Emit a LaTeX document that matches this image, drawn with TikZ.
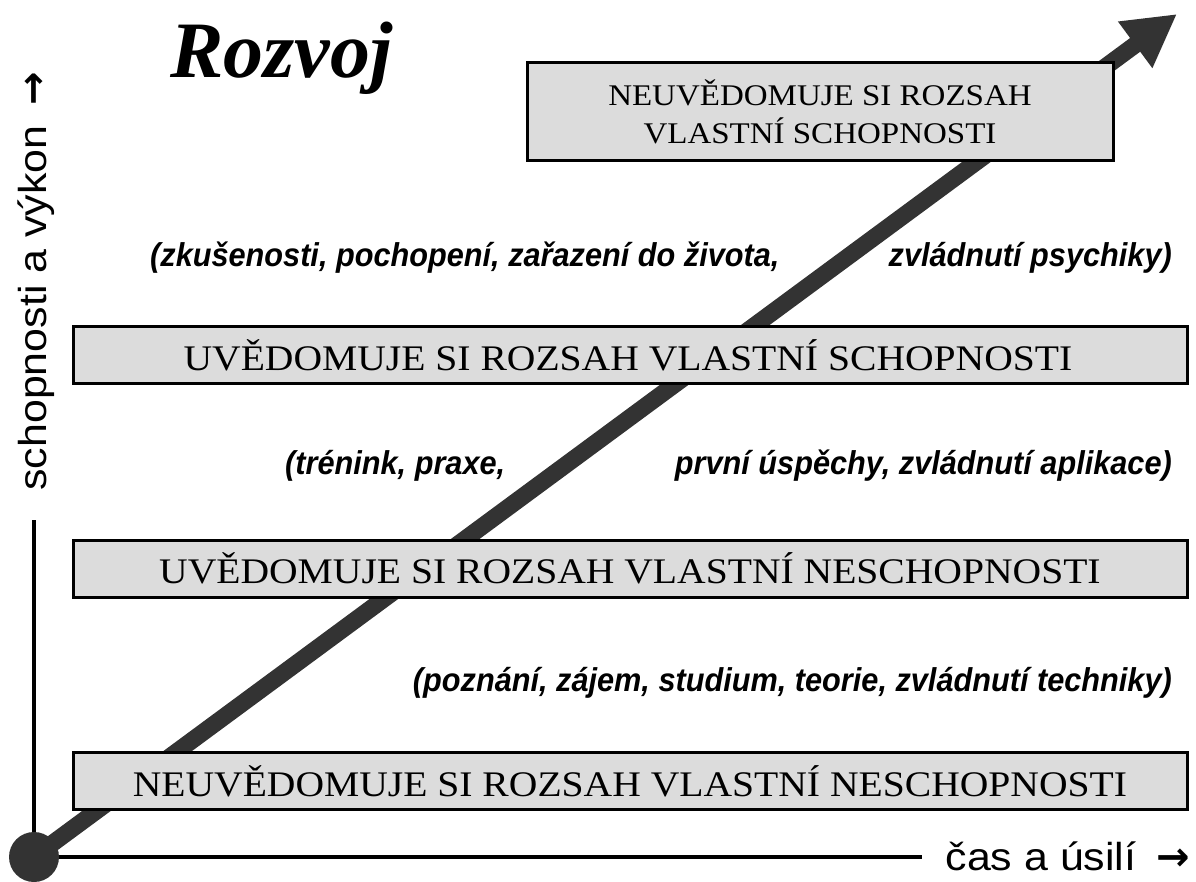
\documentclass[tikz,border=0pt]{standalone}
\usepackage{fontspec}
\usetikzlibrary{arrows.meta}
\newfontfamily\boxfont[FakeStretch=1.1]{Liberation Serif}
\newfontfamily\labfont[FakeStretch=0.93]{Liberation Sans}
\newfontfamily\axfont[FakeStretch=1.1]{Liberation Sans}
\newfontfamily\arrowfont{DejaVu Sans}
\newfontfamily\titlefont{Liberation Serif}
\definecolor{arrowgray}{HTML}{333333}
\definecolor{boxgray}{HTML}{DCDCDC}
\newcommand{\axarrow}{\hspace{8pt}{\arrowfont\bfseries\fontsize{40}{40}\selectfont →}}
\tikzset{
  stagebox/.style={draw=black, line width=3pt, fill=boxgray, inner sep=0pt},
  stagetext/.style={font=\boxfont\fontsize{36}{40}\selectfont, inner sep=0pt},
  toptext/.style={font=\boxfont\fontsize{30}{38}\selectfont, align=center, inner sep=0pt},
  hint/.style={font=\labfont\bfseries\itshape\fontsize{33}{36}\selectfont, inner sep=0pt},
  axlabel/.style={font=\axfont\fontsize{39}{40}\selectfont, inner sep=0pt},
  axisline/.style={line width=4pt, black},
  bigarrow/.style={line width=17pt, arrowgray, -{Triangle[length=52pt,width=54pt]}}
}
\begin{document}
\begin{tikzpicture}[x=1pt,y=-1pt]
\useasboundingbox (0,0) rectangle (1196,882);
\coordinate (origin) at (34,857);
\coordinate (ytop) at (34,520);
\coordinate (xend) at (922,857);
\coordinate (tip) at (1177,14);
% axes
\draw[axisline] (ytop) -- (origin) -- (xend);
% big arrow
\draw[bigarrow] (origin) -- (tip);
\fill[arrowgray] (origin) circle[radius=25];
% boxes
\path[stagebox] (73,752) rectangle (1187,809);
\path[stagebox] (73,540) rectangle (1187,597);
\path[stagebox] (73,327) rectangle (1187,383);
\path[stagebox] (527,63) rectangle (1113,161);
\node[stagetext] (s1) at (630,781) {NEUVĚDOMUJE SI ROZSAH VLASTNÍ NESCHOPNOSTI};
\node[stagetext] (s2) at (630,568) {UVĚDOMUJE SI ROZSAH VLASTNÍ NESCHOPNOSTI};
\node[stagetext] (s3) at (628,355) {UVĚDOMUJE SI ROZSAH VLASTNÍ SCHOPNOSTI};
\node[toptext] (s4) at (820,112) {NEUVĚDOMUJE SI ROZSAH\\VLASTNÍ SCHOPNOSTI};
% hints
\node[hint, anchor=base west] (h1a) at (150,267) {(zkušenosti, pochopení, zařazení do života,};
\node[hint, anchor=base east] (h1b) at (1172,267) {zvládnutí psychiky)};
\node[hint, anchor=base west] (h2a) at (285,474) {(trénink, praxe,};
\node[hint, anchor=base east] (h2b) at (1172,474) {první úspěchy, zvládnutí aplikace)};
\node[hint, anchor=base east] (h3) at (1172,691) {(poznání, zájem, studium, teorie, zvládnutí techniky)};
% title
\node[font=\titlefont\bfseries\itshape\fontsize{80}{80}\selectfont, anchor=base west, inner sep=0pt] (title) at (170,78) {Rozvoj};
% axis labels
\node[axlabel, anchor=base east] (xlab) at (1190,870) {čas a úsilí \axarrow};
\node[axlabel, rotate=90, anchor=base east] (ylab) at (46,72) {schopnosti a výkon \axarrow};
\end{tikzpicture}
\end{document}
